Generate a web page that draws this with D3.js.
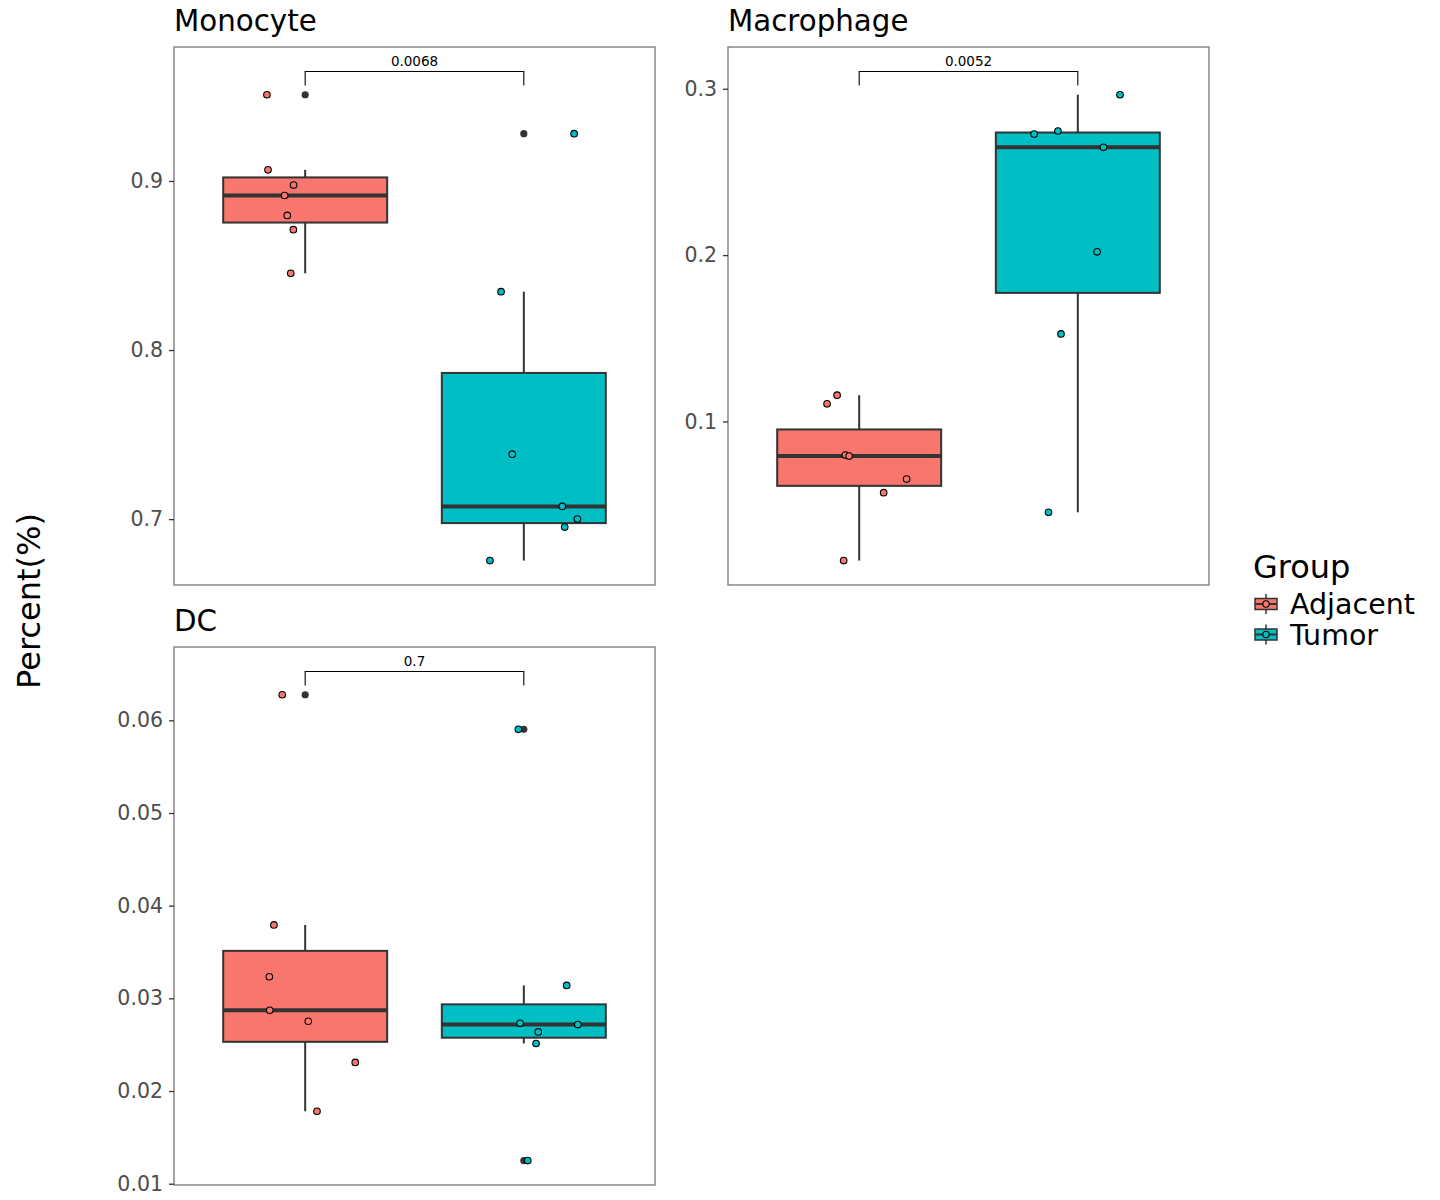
<!DOCTYPE html>
<html><head><meta charset="utf-8">
<script src="https://cdn.jsdelivr.net/npm/d3@7"></script>
<style>body{margin:0;background:#fff}svg{display:block}text{font-family:"DejaVu Sans",sans-serif}</style>
</head><body>
<svg id="c" width="1440" height="1200"></svg>
<script>
// ---------------- data ----------------
const groups = ["Adjacent", "Tumor"];
const groupColors = ["#F8766D", "#00BFC4"];
const panelNames = ["Monocyte", "Macrophage", "DC"];
const pValues = ["0.0068", "0.0052", "0.7"];

const monocyteAdjacent = [0.951, 0.9066, 0.8976, 0.8914, 0.8796, 0.8712, 0.8454];
const monocyteTumor    = [0.928, 0.8345, 0.7384, 0.7075, 0.7000, 0.6953, 0.6755];
const macrophageAdjacent = [0.1158, 0.1106, 0.0798, 0.0792, 0.0654, 0.0572, 0.0164];
const macrophageTumor    = [0.2964, 0.2728, 0.2746, 0.2648, 0.2020, 0.1526, 0.0454];
const dcAdjacent = [0.06276, 0.03792, 0.03233, 0.02871, 0.02753, 0.02309, 0.01782];
const dcTumor    = [0.05903, 0.03140, 0.02731, 0.02717, 0.02638, 0.02513, 0.01250];

// horizontal jitter (in category units)
const monocyteAdjacentJitter = [-0.175, -0.170, -0.053, -0.094, -0.082, -0.054, -0.066];
const monocyteTumorJitter    = [0.230, -0.104, -0.053, 0.176, 0.245, 0.187, -0.155];
const macrophageAdjacentJitter = [-0.101, -0.147, -0.063, -0.046, 0.217, 0.112, -0.071];
const macrophageTumorJitter    = [0.193, -0.200, -0.091, 0.117, 0.088, -0.077, -0.134];
const dcAdjacentJitter = [-0.105, -0.143, -0.164, -0.162, 0.014, 0.229, 0.054];
const dcTumorJitter    = [-0.025, 0.196, -0.017, 0.247, 0.066, 0.056, 0.018];

const monocyteTicks = [0.7, 0.8, 0.9];
const macrophageTicks = [0.1, 0.2, 0.3];
const dcTicks = [0.01, 0.02, 0.03, 0.04, 0.05, 0.06];
const yAxisTitle = "Percent(%)";
const legendTitle = "Group";

// ---------------- build ----------------
const panelData = [
  {name: panelNames[0], p: pValues[0], values: [monocyteAdjacent, monocyteTumor], jitter: [monocyteAdjacentJitter, monocyteTumorJitter], ticks: monocyteTicks, fmt: d3.format(".1f")},
  {name: panelNames[1], p: pValues[1], values: [macrophageAdjacent, macrophageTumor], jitter: [macrophageAdjacentJitter, macrophageTumorJitter], ticks: macrophageTicks, fmt: d3.format(".1f")},
  {name: panelNames[2], p: pValues[2], values: [dcAdjacent, dcTumor], jitter: [dcAdjacentJitter, dcTumorJitter], ticks: dcTicks, fmt: d3.format(".2f")}
];
const layout = [
  {x0: 174, x1: 655, y0: 47, y1: 585},
  {x0: 728, x1: 1209, y0: 47, y1: 585},
  {x0: 174, x1: 655, y0: 647, y1: 1185}
];

const svg = d3.select("#c");
const dark = "#333333";

function boxStats(arr) {
  const s = arr.slice().sort(d3.ascending);
  const q1 = d3.quantile(s, 0.25), med = d3.quantile(s, 0.5), q3 = d3.quantile(s, 0.75);
  const iqr = q3 - q1;
  const lo = q1 - 1.5 * iqr, hi = q3 + 1.5 * iqr;
  const inside = s.filter(v => v >= lo && v <= hi);
  return {q1, med, q3, wlo: d3.min(inside), whi: d3.max(inside), out: s.filter(v => v < lo || v > hi)};
}

panelData.forEach((pd, i) => {
  const L = layout[i];
  const all = pd.values.flat();
  const vmin = d3.min(all), vmax = d3.max(all);
  const rng = vmax - vmin;
  const bracketY = vmax + 0.05 * rng;
  const tipY = bracketY - 0.03 * rng;
  const lo = vmin, hi = bracketY, ex = (hi - lo) * 0.05;
  const y = d3.scaleLinear().domain([lo - ex, hi + ex]).range([L.y1, L.y0]);
  // discrete x: categories 1..2 with 0.6 expansion
  const xc = d3.scaleLinear().domain([0.4, 2.6]).range([L.x0, L.x1]);
  const unit = xc(1) - xc(0);
  const g = svg.append("g");

  // title
  g.append("text").attr("x", L.x0).attr("y", L.y0 - 16).attr("font-size", 29.3).attr("fill", "#000").text(pd.name);

  // panel border
  g.append("rect").attr("x", L.x0).attr("y", L.y0).attr("width", L.x1 - L.x0).attr("height", L.y1 - L.y0)
    .attr("fill", "#fff").attr("stroke", "#7f7f7f").attr("stroke-width", 1.4);

  // y axis
  const ax = g.append("g").attr("transform", `translate(${L.x0},0)`)
    .call(d3.axisLeft(y).tickValues(pd.ticks).tickFormat(pd.fmt).tickSize(5).tickPadding(6));
  ax.select(".domain").remove();
  ax.selectAll(".tick line").attr("stroke", dark).attr("stroke-width", 1.3);
  ax.selectAll(".tick text").attr("fill", "#4d4d4d").attr("font-size", 20.5).attr("font-family", "DejaVu Sans");

  // boxes
  pd.values.forEach((vals, gi) => {
    const st = boxStats(vals);
    const cx = xc(gi + 1), hw = 0.375 * unit;
    g.append("line").attr("x1", cx).attr("x2", cx).attr("y1", y(st.q3)).attr("y2", y(st.whi)).attr("stroke", dark).attr("stroke-width", 2);
    g.append("line").attr("x1", cx).attr("x2", cx).attr("y1", y(st.q1)).attr("y2", y(st.wlo)).attr("stroke", dark).attr("stroke-width", 2);
    g.append("rect").attr("x", cx - hw).attr("width", 2 * hw).attr("y", y(st.q3)).attr("height", y(st.q1) - y(st.q3))
      .attr("fill", groupColors[gi]).attr("stroke", dark).attr("stroke-width", 2);
    g.append("line").attr("x1", cx - hw).attr("x2", cx + hw).attr("y1", y(st.med)).attr("y2", y(st.med)).attr("stroke", dark).attr("stroke-width", 4);
    st.out.forEach(v => {
      g.append("circle").attr("cx", cx).attr("cy", y(v)).attr("r", 3.6).attr("fill", dark);
    });
  });
  // jittered points
  pd.values.forEach((vals, gi) => {
    vals.forEach((v, k) => {
      g.append("circle").attr("cx", xc(gi + 1 + pd.jitter[gi][k])).attr("cy", y(v)).attr("r", 3.3)
        .attr("fill", groupColors[gi]).attr("stroke", "#000").attr("stroke-width", 1.1);
    });
  });

  // significance bracket
  const bx1 = xc(1), bx2 = xc(2);
  g.append("path").attr("d", `M${bx1},${y(tipY)}V${y(bracketY)}H${bx2}V${y(tipY)}`)
    .attr("fill", "none").attr("stroke", "#000").attr("stroke-width", 1.1);
  g.append("text").attr("x", (bx1 + bx2) / 2).attr("y", y(bracketY) - 5).attr("text-anchor", "middle")
    .attr("font-size", 13.5).attr("fill", "#000").text(pd.p);
});

// y axis title
svg.append("text").attr("transform", "translate(40,601) rotate(-90)").attr("text-anchor", "middle")
  .attr("font-size", 32).attr("fill", "#000").text(yAxisTitle);

// legend
const lg = svg.append("g");
lg.append("text").attr("x", 1253).attr("y", 578).attr("font-size", 32).attr("fill", "#000").text(legendTitle);
groups.forEach((name, gi) => {
  const cy = 604 + gi * 30.5;
  const kx = 1266;
  lg.append("line").attr("x1", kx).attr("x2", kx).attr("y1", cy - 10).attr("y2", cy + 10).attr("stroke", dark).attr("stroke-width", 1.5);
  lg.append("rect").attr("x", kx - 11).attr("y", cy - 5.5).attr("width", 22).attr("height", 11)
    .attr("fill", groupColors[gi]).attr("stroke", dark).attr("stroke-width", 1.5);
  lg.append("line").attr("x1", kx - 11).attr("x2", kx + 11).attr("y1", cy).attr("y2", cy).attr("stroke", dark).attr("stroke-width", 2);
  lg.append("circle").attr("cx", kx).attr("cy", cy).attr("r", 3.2).attr("fill", groupColors[gi]).attr("stroke", "#000").attr("stroke-width", 1.1);
  lg.append("text").attr("x", 1290).attr("y", cy + 10).attr("font-size", 28.5).attr("fill", "#000").text(name);
});
</script>
</body></html>
